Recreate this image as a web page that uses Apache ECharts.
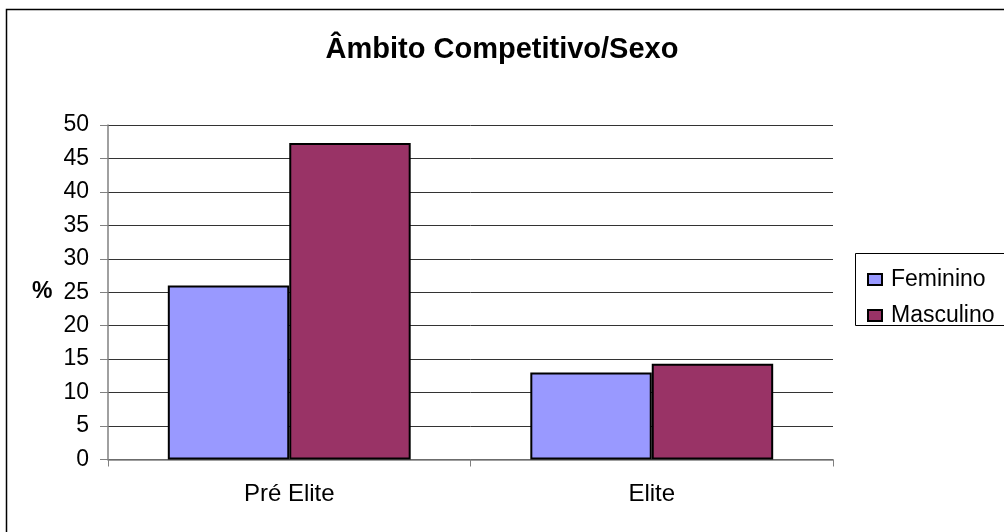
<!DOCTYPE html>
<html><head><meta charset="utf-8">
<script src="https://cdn.jsdelivr.net/npm/echarts@6/dist/echarts.min.js"></script>
<style>html,body{margin:0;padding:0;background:#fff}#c{width:1004px;height:532px}</style>
</head><body><div id="c"></div>
<script>
const categories = ['Pré Elite', 'Elite'];
const feminino = [26.0, 13.0];
const masculino = [47.3, 14.3];
const yTicks = { min: 0, max: 50, interval: 5 };

const chart = echarts.init(document.getElementById('c'), null, {renderer: 'canvas'});
const font = 'Liberation Sans, Arial, sans-serif';
chart.setOption({
  animation: false,
  backgroundColor: '#fff',
  title: {
    text: 'Âmbito Competitivo/Sexo', left: 'center', top: 30,
    textStyle: {fontFamily: font, fontSize: 29, fontWeight: 'bold', color: '#000'}
  },
  graphic: [
    {type: 'rect', shape: {x: 6.5, y: 9.5, width: 1010, height: 540}, style: {fill: null, stroke: '#000', lineWidth: 1.5}, z: -1},
    {type: 'rect', shape: {x: 855.5, y: 253.5, width: 160, height: 72}, style: {fill: null, stroke: '#000', lineWidth: 1}},
    {type: 'text', left: 32, top: 280, style: {text: '%', font: 'bold 23px ' + font, fill: '#000'}}
  ],
  legend: {
    orient: 'vertical', left: 862, top: 263, itemGap: 13,
    itemWidth: 14, itemHeight: 11, icon: 'rect',
    textStyle: {fontFamily: font, fontSize: 23, color: '#000', padding: [0,0,0,4]},
    data: ['Feminino', 'Masculino']
  },
  grid: {left: 108, right: 171, top: 125, bottom: 72.5},
  xAxis: {
    type: 'category', data: categories,
    axisLine: {lineStyle: {color: '#808080', width: 1.5}},
    axisTick: {show: true, length: 7, lineStyle: {color: '#808080'}},
    axisLabel: {fontFamily: font, fontSize: 24, color: '#000', margin: 23}
  },
  yAxis: {
    type: 'value', min: yTicks.min, max: yTicks.max, interval: yTicks.interval,
    axisLine: {show: true, lineStyle: {color: '#808080', width: 1.5}},
    axisTick: {show: true, length: 8, lineStyle: {color: '#808080'}},
    axisLabel: {fontFamily: font, fontSize: 23, color: '#000', margin: 19},
    splitLine: {lineStyle: {color: '#333', width: 1}}
  },
  series: [
    {name: 'Feminino', type: 'bar', data: feminino, barGap: '0%', barCategoryGap: '33%',
     itemStyle: {color: '#9999ff', borderColor: '#000', borderWidth: 2}},
    {name: 'Masculino', type: 'bar', data: masculino, barGap: '0%', barCategoryGap: '33%',
     itemStyle: {color: '#993366', borderColor: '#000', borderWidth: 2}}
  ]
});
</script></body></html>
